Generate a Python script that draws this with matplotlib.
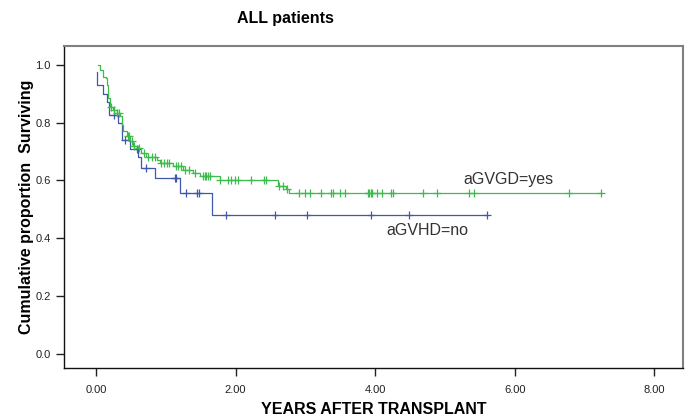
import numpy as np
import matplotlib.pyplot as plt

# ---------------------------------------------------------------------------
# Kaplan-Meier style curves (years, cumulative survival)
# ---------------------------------------------------------------------------

# aGVHD = no (blue)
no_tempos = [0.01, 0.01, 0.10, 0.15, 0.19, 0.32, 0.37, 0.49, 0.60, 0.65, 0.84, 1.20, 1.66, 5.60]
no_surv = [0.977, 0.93, 0.90, 0.873, 0.827, 0.80, 0.74, 0.71, 0.68, 0.643, 0.609, 0.557, 0.479, 0.479]
no_censura = [0.25, 0.41, 0.59, 0.71, 1.13, 1.15, 1.29, 1.45, 1.47, 1.86, 2.56,
              3.02, 3.94, 4.48, 5.60]

# aGVHD = yes (green)
yes_tempos = [0.02, 0.057, 0.105, 0.143, 0.152, 0.176, 0.20, 0.248, 0.295, 0.343,
              0.367, 0.39, 0.44, 0.486, 0.533, 0.60, 0.65, 0.72, 0.87, 0.91, 1.10,
              1.25, 1.39, 1.49, 1.77, 2.60, 2.72, 2.77, 7.25]
yes_surv = [1.0, 0.983, 0.96, 0.954, 0.931, 0.885, 0.856, 0.845, 0.833, 0.822,
            0.793, 0.77, 0.753, 0.735, 0.718, 0.712, 0.695, 0.68, 0.672, 0.66, 0.649,
            0.637, 0.626, 0.614, 0.60, 0.58, 0.57, 0.555, 0.555]
yes_censura = [0.22, 0.26, 0.30, 0.33, 0.45, 0.47, 0.52, 0.55, 0.62, 0.68, 0.75, 0.80,
               0.85, 0.93, 0.97, 1.02, 1.05, 1.15, 1.18, 1.22, 1.28, 1.33, 1.42,
               1.53, 1.56, 1.58, 1.61, 1.63, 1.77, 1.89, 1.94, 1.99, 2.03, 2.22,
               2.41, 2.44, 2.62, 2.68, 2.73, 2.91, 2.99, 3.06, 3.22, 3.37, 3.39,
               3.49, 3.56, 3.89, 3.91, 3.94, 3.96, 4.03, 4.10, 4.22, 4.25, 4.68,
               4.89, 5.34, 5.41, 6.77, 7.24]

x_ticks = [0, 2, 4, 6, 8]
y_ticks = [0.0, 0.2, 0.4, 0.6, 0.8, 1.0]

azul = '#4058aa'
verde = '#3dbb4d'

plt.rcParams['font.family'] = ['Liberation Sans', 'DejaVu Sans']


def surv_em(tempos, surv, t):
    # valor da curva em degrau (post) no instante t
    idx = np.searchsorted(tempos, t, side='right') - 1
    return np.asarray(surv)[np.clip(idx, 0, len(surv) - 1)]


fig = plt.figure(figsize=(6.95, 4.2), dpi=100)
ax = fig.add_axes([0.0921, 0.1238, 0.8906, 0.7667])

for tempos, surv, cens, cor in [(no_tempos, no_surv, no_censura, azul),
                                (yes_tempos, yes_surv, yes_censura, verde)]:
    ax.step(tempos, surv, where='post', color=cor, linewidth=0.9)
    ax.plot(cens, surv_em(tempos, surv, np.array(cens)), linestyle='none',
            marker='+', markersize=6, markeredgewidth=0.9, color=cor)

ax.text(5.26, 0.604, 'aGVGD=yes', fontsize=11.5, color='#333333', ha='left', va='center')
ax.text(4.16, 0.425, 'aGVHD=no', fontsize=11.5, color='#333333', ha='left', va='center')

ax.set_xlim(-0.46, 8.41)
ax.set_ylim(-0.05, 1.066)
ax.set_xticks(x_ticks)
ax.set_xticklabels([f'{v:.2f}' for v in x_ticks])
ax.set_yticks(y_ticks)
ax.set_yticklabels([f'{v:.1f}' for v in y_ticks])
ax.tick_params(axis='both', labelsize=8, colors='#222222', length=6, width=1, direction='out')
ax.tick_params(axis='x', pad=6)

for lado in ['top', 'right']:
    ax.spines[lado].set_color('#808080')
    ax.spines[lado].set_linewidth(1.5)
for lado in ['left', 'bottom']:
    ax.spines[lado].set_color('#111111')
    ax.spines[lado].set_linewidth(1.0)

ax.set_xlabel('YEARS AFTER TRANSPLANT', fontsize=11.5, fontweight='bold', labelpad=5)
ax.set_ylabel('Cumulative proportion  Surviving', fontsize=11.5, fontweight='bold')
ax.yaxis.set_label_coords(-0.049, 0.5)
fig.text(0.41, 0.957, 'ALL patients', fontsize=11.5, fontweight='bold', ha='center', va='center')

plt.savefig('out.png', dpi=100)
plt.close()
